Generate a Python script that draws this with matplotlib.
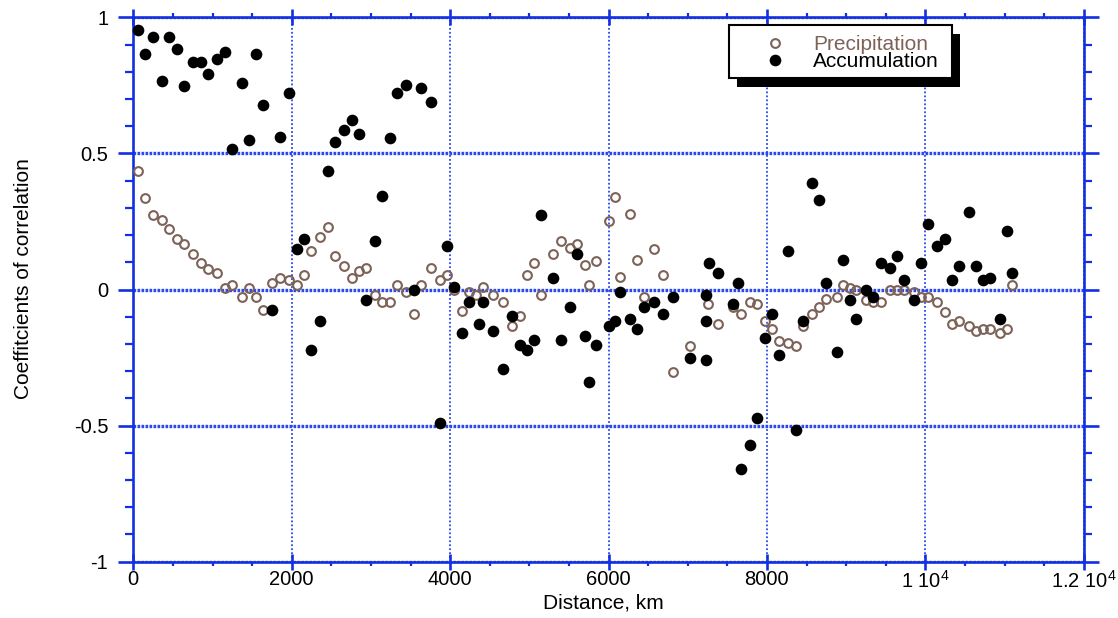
import matplotlib
matplotlib.use("Agg")
import matplotlib.pyplot as plt
from matplotlib.ticker import FixedLocator, MultipleLocator, FixedFormatter
from matplotlib.patches import Rectangle
from matplotlib.transforms import IdentityTransform

plt.rcParams['font.family'] = ['Liberation Sans', 'DejaVu Sans']
plt.rcParams['mathtext.default'] = 'regular'

# ---------------- data ----------------
acc_dist = [63, 152, 245, 363, 456, 548, 641, 755, 852, 941, 1063, 1156, 1249, 1367, 1460,
            1548, 1637, 1755, 1848, 1970, 2067, 2156, 2244, 2363, 2455, 2548, 2666, 2759,
            2848, 2941, 3050, 3146, 3239, 3325, 3446, 3540, 3631, 3753, 3877, 3966, 4055,
            4152, 4241, 4359, 4418, 4541, 4664, 4786, 4879, 4968, 5057, 5150, 5300, 5395,
            5514, 5600, 5700, 5755, 5848, 6000, 6085, 6148, 6267, 6360, 6449, 6572, 6691,
            6814, 7025, 7237, 7237, 7237, 7265, 7385, 7576, 7630, 7669, 7788, 7881, 7970,
            8063, 8152, 8265, 8364, 8457, 8570, 8660, 8750, 8881, 8965, 9050, 9130, 9256,
            9345, 9437, 9555, 9643, 9736, 9858, 9946, 10034, 10152, 10249, 10341, 10430,
            10548, 10640, 10729, 10821, 10943, 11036, 11095]
acc_corr = [0.954, 0.864, 0.927, 0.765, 0.927, 0.882, 0.749, 0.837, 0.837, 0.792, 0.846,
            0.873, 0.516, 0.757, 0.551, 0.864, 0.677, -0.075, 0.561, 0.721, 0.150, 0.185,
            -0.224, -0.117, 0.435, 0.542, 0.587, 0.622, 0.570, -0.037, 0.177, 0.344, 0.558,
            0.723, 0.751, 0.0, 0.742, 0.687, -0.490, 0.160, 0.008, -0.161, -0.046, -0.125,
            -0.046, -0.152, -0.293, -0.098, -0.204, -0.223, -0.187, 0.275, 0.044, -0.187,
            -0.063, 0.132, -0.170, -0.338, -0.205, -0.134, -0.117, -0.009, -0.108, -0.144,
            -0.063, -0.046, -0.089, -0.027, -0.251, -0.020, -0.117, -0.260, 0.098, 0.062,
            -0.055, 0.025, -0.660, -0.571, -0.473, -0.180, -0.089, -0.242, 0.142, -0.518,
            -0.117, 0.392, 0.330, 0.025, -0.231, 0.107, -0.037, -0.108, 0.0, -0.029, 0.098,
            0.080, 0.124, 0.035, -0.037, 0.098, 0.240, 0.159, 0.186, 0.035, 0.088, 0.284,
            0.088, 0.035, 0.043, -0.108, 0.214, 0.061]

pre_dist = [63, 152, 245, 363, 456, 548, 641, 755, 852, 941, 1063, 1156, 1249, 1367, 1460,
            1548, 1637, 1755, 1848, 1970, 2067, 2156, 2244, 2363, 2455, 2548, 2666, 2759,
            2848, 2941, 3050, 3146, 3239, 3325, 3446, 3540, 3631, 3753, 3877, 3966, 4055,
            4152, 4241, 4330, 4418, 4541, 4664, 4786, 4879, 4968, 5057, 5150, 5300, 5395,
            5514, 5600, 5700, 5755, 5848, 6000, 6085, 6148, 6267, 6360, 6449, 6572, 6691,
            6814, 7025, 7250, 7385, 7576, 7669, 7788, 7881, 7970, 8063, 8152, 8265, 8364,
            8457, 8570, 8660, 8750, 8881, 8965, 9050, 9130, 9256, 9345, 9437, 9555, 9643,
            9736, 9858, 9946, 10034, 10152, 10249, 10341, 10430, 10548, 10640, 10729,
            10821, 10943, 11036, 11095]
pre_corr = [0.435, 0.337, 0.274, 0.256, 0.223, 0.185, 0.167, 0.132, 0.096, 0.077, 0.060,
            0.006, 0.017, -0.029, 0.007, -0.029, -0.075, 0.024, 0.042, 0.034, 0.017, 0.052,
            0.141, 0.194, 0.230, 0.123, 0.087, 0.044, 0.068, 0.078, -0.019, -0.046, -0.046,
            0.017, -0.010, -0.089, 0.017, 0.080, 0.035, 0.053, -0.001, -0.080, -0.010,
            -0.020, 0.009, -0.019, -0.046, -0.134, -0.098, 0.053, 0.097, -0.019, 0.132,
            0.177, 0.151, 0.168, 0.089, 0.017, 0.106, 0.250, 0.338, 0.045, 0.276, 0.107,
            -0.027, 0.150, 0.052, -0.303, -0.206, -0.055, -0.125, -0.063, -0.091, -0.046,
            -0.055, -0.117, -0.144, -0.189, -0.198, -0.206, -0.135, -0.091, -0.063, -0.036,
            -0.027, 0.017, 0.007, 0.0, -0.037, -0.046, -0.046, 0.0, 0.0, 0.0, -0.009,
            -0.027, -0.027, -0.046, -0.081, -0.125, -0.117, -0.135, -0.153, -0.144, -0.144,
            -0.161, -0.144, 0.017]

x_ticks = [0, 2000, 4000, 6000, 8000, 10000, 12000]
x_tick_labels = ['0', '2000', '4000', '6000', '8000', '1 10$^{4}$', '1.2 10$^{4}$']
y_ticks = [-1, -0.5, 0, 0.5, 1]
y_tick_labels = ['-1', '-0.5', '0', '0.5', '1']

series_names = ['Precipitation', 'Accumulation']

# ---------------- style ----------------
BLUE = '#1230e2'
GRID = '#2a48ec'
BROWN = '#7d6258'

W, H = 1118, 618
fig = plt.figure(figsize=(W / 100, H / 100), dpi=100)
ax = fig.add_axes([133.3 / W, 1 - 561.7 / H, (1083.7 - 133.3) / W, (561.7 - 17.3) / H])

ax.plot(pre_dist, pre_corr, linestyle='none', marker='o', markersize=6.3,
        markerfacecolor='none', markeredgecolor=BROWN, markeredgewidth=1.5,
        label=series_names[0], zorder=3, clip_on=False)
ax.plot(acc_dist, acc_corr, linestyle='none', marker='o', markersize=8.4,
        markerfacecolor='black', markeredgecolor='black', markeredgewidth=0,
        label=series_names[1], zorder=4, clip_on=False)

ax.set_xlim(0, 12000)
ax.set_ylim(-1, 1)

ax.xaxis.set_major_locator(FixedLocator(x_ticks))
ax.xaxis.set_major_formatter(FixedFormatter(x_tick_labels))
ax.xaxis.set_minor_locator(MultipleLocator(500))
ax.yaxis.set_major_locator(FixedLocator(y_ticks))
ax.yaxis.set_major_formatter(FixedFormatter(y_tick_labels))
ax.yaxis.set_minor_locator(MultipleLocator(0.1))

for s in ax.spines.values():
    s.set_color(BLUE)
    s.set_linewidth(1.9)

ax.tick_params(axis='x', which='major', direction='inout', length=12, width=1.9,
               color=BLUE, top=True, bottom=True, labelsize=14.5, pad=0)
ax.tick_params(axis='x', which='minor', direction='out', length=3.2, width=1.6,
               color=BLUE, top=True, bottom=True)
ax.tick_params(axis='y', which='major', direction='out', length=11, width=1.9,
               color=BLUE, left=True, right=True, labelsize=14.5, pad=7)
ax.tick_params(axis='y', which='minor', direction='out', length=6, width=1.6,
               color=BLUE, left=True, right=True)

ax.xaxis.grid(True, which='major', color=GRID, linestyle=(0, (1, 1.2)), linewidth=1.3)
ax.yaxis.grid(True, which='major', color=GRID, linestyle=(0, (0.8, 0.4)), linewidth=2.4)
ax.set_axisbelow(True)

ax.set_xlabel('Distance, km', fontsize=15)
ax.set_ylabel('Coeffitcients of correlation', fontsize=15)
ax.xaxis.set_label_coords(0.495, -0.059)
ax.yaxis.set_label_coords(-0.106, 0.521)
ax.xaxis.label.set_va('top')

# legend: handles and texts from matplotlib, box + shadow drawn as patches
leg = ax.legend(loc='upper left', bbox_to_anchor=(754 / W, 1 - 35 / H),
                bbox_transform=fig.transFigure, fontsize=15, frameon=False,
                borderaxespad=0, borderpad=0, handlelength=2.0,
                handletextpad=0.83, labelspacing=-0.08)
leg.set_zorder(12)
for t, c in zip(leg.get_texts(), [BROWN, 'black']):
    t.set_color(c)

box_x0, box_y0, box_x1, box_y1 = 729, 25, 952, 78  # pixel frame of the legend box (top-left origin)
shadow = Rectangle((box_x0 + 8, H - box_y1 - 9), box_x1 - box_x0, box_y1 - box_y0,
                   transform=IdentityTransform(), facecolor='black', edgecolor='none',
                   zorder=10, clip_on=False)
frame = Rectangle((box_x0, H - box_y1), box_x1 - box_x0, box_y1 - box_y0,
                  transform=IdentityTransform(), facecolor='white', edgecolor='black',
                  linewidth=1.5, zorder=11, clip_on=False)
ax.add_patch(shadow)
ax.add_patch(frame)

fig.savefig('out.png', dpi=100)
